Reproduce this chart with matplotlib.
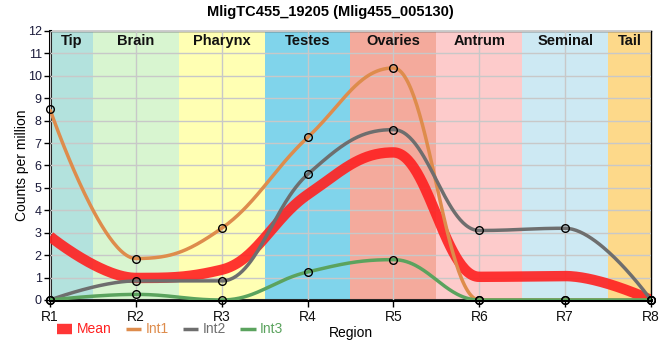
import numpy as np
import matplotlib
matplotlib.use("Agg")
import matplotlib.pyplot as plt

# data
regions = ["R1", "R2", "R3", "R4", "R5", "R6", "R7", "R8"]
int1 = [8.5, 1.85, 3.2, 7.25, 10.35, 0.0, 0.0, 0.0]
int2 = [0.0, 0.85, 0.85, 5.6, 7.6, 3.1, 3.2, 0.0]
int3 = [0.0, 0.25, 0.0, 1.25, 1.8, 0.0, 0.0, 0.0]
mean = list(np.mean([int1, int2, int3], axis=0))

tissues = ["Tip", "Brain", "Pharynx", "Testes", "Ovaries", "Antrum", "Seminal", "Tail"]
tissue_colors = ["#b3e2dd", "#d8f5d0", "#ffffb3", "#80d4eb",
                 "#f4aa9c", "#fdcbcb", "#cde9f3", "#fdd98a"]


def spline_path(y, smoothing=1.5, n=60):
    """Bezier spline through the points, flattened at local extremes."""
    y = np.asarray(y, dtype=float)
    x = np.arange(len(y), dtype=float)
    N = len(y)
    lc = [(x[i], y[i]) for i in range(N)]  # left control points
    rc = [(x[i], y[i]) for i in range(N)]  # right control points
    den = smoothing + 1
    for i in range(1, N - 1):
        lx = (smoothing * x[i] + x[i - 1]) / den
        ly = (smoothing * y[i] + y[i - 1]) / den
        rx = (smoothing * x[i] + x[i + 1]) / den
        ry = (smoothing * y[i] + y[i + 1]) / den
        corr = (ry - ly) * (rx - x[i]) / (rx - lx) + y[i] - ry
        ly += corr
        ry += corr
        if ly > y[i - 1] and ly > y[i]:
            ly = max(y[i - 1], y[i]); ry = 2 * y[i] - ly
        elif ly < y[i - 1] and ly < y[i]:
            ly = min(y[i - 1], y[i]); ry = 2 * y[i] - ly
        if ry > y[i + 1] and ry > y[i]:
            ry = max(y[i + 1], y[i]); ly = 2 * y[i] - ry
        elif ry < y[i + 1] and ry < y[i]:
            ry = min(y[i + 1], y[i]); ly = 2 * y[i] - ry
        lc[i] = (lx, ly)
        rc[i] = (rx, ry)
    t = np.linspace(0, 1, n)[:, None]
    pts = []
    for i in range(N - 1):
        p0 = np.array([x[i], y[i]])
        p1 = np.array(rc[i])
        p2 = np.array(lc[i + 1])
        p3 = np.array([x[i + 1], y[i + 1]])
        seg = ((1 - t) ** 3) * p0 + 3 * ((1 - t) ** 2) * t * p1 \
            + 3 * (1 - t) * t ** 2 * p2 + t ** 3 * p3
        pts.append(seg)
    pts = np.vstack(pts)
    return pts[:, 0], pts[:, 1]


plt.rcParams["font.family"] = ["Liberation Sans", "DejaVu Sans"]

fig = plt.figure(figsize=(6.6, 3.6), dpi=100)
ax = fig.add_axes([0.0758, 0.1667, 0.9105, 0.7472])

xpos = np.arange(len(regions))
for i, (name, col) in enumerate(zip(tissues, tissue_colors)):
    lo = max(i - 0.5, 0)
    hi = min(i + 0.5, len(regions) - 1)
    ax.axvspan(lo, hi, color=col, lw=0, zorder=0)
    ax.text((lo + hi) / 2, 11.55, name, ha="center", va="center",
            fontsize=10.5, fontweight="bold", color="#111111", zorder=5)

ax.grid(True, color="#c8c8c8", lw=1, zorder=1)
ax.set_axisbelow(False)

series = [
    ("Mean", mean, "#ff2020", 7.5, 0.9, False),
    ("Int1", int1, "#de8c4c", 2.5, 1.0, True),
    ("Int2", int2, "#6e6e6e", 2.5, 1.0, True),
    ("Int3", int3, "#5ba35e", 2.5, 1.0, True),
]
handles = []
for label, vals, col, lw, a, markers in series:
    cx, cy = spline_path(vals)
    h, = ax.plot(cx, cy, color=col, lw=lw, alpha=a, label=label,
                 solid_capstyle="butt", zorder=3)
    handles.append(h)
    if markers:
        ax.plot(xpos, vals, "o", ms=5.5, mfc="none", mec="black", mew=1.0,
                zorder=4, clip_on=False)

ax.set_xlim(0, len(regions) - 1)
ax.set_ylim(0, 12)
ax.set_xticks(xpos)
ax.set_xticklabels(regions, fontsize=10, color="#111111")
ax.set_yticks(range(0, 13))
ax.tick_params(axis="y", labelsize=9, labelcolor="#1a1a3a", length=4, width=1, pad=2)
ax.tick_params(axis="x", length=5, width=1, pad=2)

for side in ["left", "bottom"]:
    ax.spines[side].set_linewidth(2.2)
for side in ["top", "right"]:
    ax.spines[side].set_linewidth(1.0)

ax.set_ylabel("Counts per million", fontsize=10, labelpad=-1)
ax.set_xlabel("Region", fontsize=10, labelpad=2)
fig.suptitle("MligTC455_19205 (Mlig455_005130)", fontsize=10.5,
             fontweight="bold", y=0.985)

leg = fig.legend(handles=handles, loc="lower left", bbox_to_anchor=(0.078, 0.05),
                 ncol=4, frameon=False, fontsize=10, handlelength=1.1,
                 handletextpad=0.3, columnspacing=1.05, borderaxespad=0)
for txt, h in zip(leg.get_texts(), handles):
    txt.set_color(h.get_color())

fig.savefig("out.png", dpi=100)
